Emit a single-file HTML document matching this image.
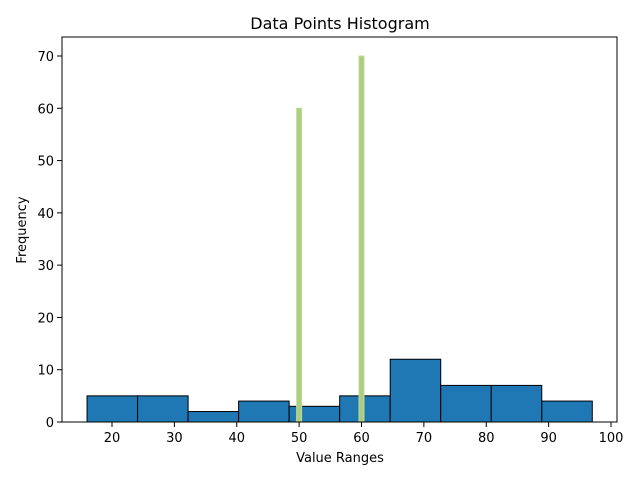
<!DOCTYPE html>
<html><head><meta charset="utf-8"><style>body{margin:0;background:#fff}svg{display:block;font-family:"DejaVu Sans","Liberation Sans",sans-serif}</style></head>
<body>
<svg id="c" width="640" height="480"></svg>
<script>
const binEdges=[16,24.1,32.2,40.3,48.4,56.5,64.6,72.7,80.8,88.9,97];
const binCounts=[5,5,2,4,3,5,12,7,7,4];
const spikeX=[50,60];
const spikeH=[60,70];
const xTicks=[20,30,40,50,60,70,80,90,100];
const yTicks=[0,10,20,30,40,50,60,70];
const L=62,R=617,T=37,B=422;
const sx=v=>112+(v-20)*6.2375;
const sy=v=>B-v*(366/70);
const svg=document.getElementById('c');
const NS='http://www.w3.org/2000/svg';
function mk(t,a,p){const e=document.createElementNS(NS,t);for(const k in a)e.setAttribute(k,a[k]);(p||svg).appendChild(e);return e;}
for(let i=0;i<binCounts.length;i++){
 const r=mk('rect',{x:sx(binEdges[i]),y:sy(binCounts[i]),width:sx(binEdges[i+1])-sx(binEdges[i]),height:B-sy(binCounts[i]),fill:'#1f77b4',stroke:'#000','stroke-width':1});
 
 
}
for(let i=0;i<spikeX.length;i++){
 const r=mk('rect',{x:sx(spikeX[i]-0.4),y:sy(spikeH[i]),width:sx(spikeX[i]+0.4)-sx(spikeX[i]-0.4),height:B-sy(spikeH[i]),fill:'#b3c98a',stroke:'#b2e28a','stroke-width':1});
 
 
}
const f=mk('rect',{x:L,y:T,width:R-L,height:B-T,fill:'none',stroke:'#000','stroke-width':1});


xTicks.forEach(v=>{
 mk('line',{x1:sx(v),x2:sx(v),y1:B,y2:B+5,stroke:'#000'});
 const t=mk('text',{x:sx(v),y:B+20,'text-anchor':'middle','font-size':13});
 t.textContent=v;
 
 
});
yTicks.forEach(v=>{
 mk('line',{x1:L-5,x2:L,y1:sy(v),y2:sy(v),stroke:'#000'});
 const t=mk('text',{x:L-8,y:sy(v)+5,'text-anchor':'end','font-size':13});
 t.textContent=v;
 
 
});
let t=mk('text',{x:340,y:29,'text-anchor':'middle','font-size':16});t.textContent='Data Points Histogram';


t=mk('text',{x:340,y:462,'text-anchor':'middle','font-size':13});t.textContent='Value Ranges';


t=mk('text',{x:26,y:230,'text-anchor':'middle','font-size':13,transform:'rotate(-90 26 230)'});t.textContent='Frequency';


</script>
</body></html>
